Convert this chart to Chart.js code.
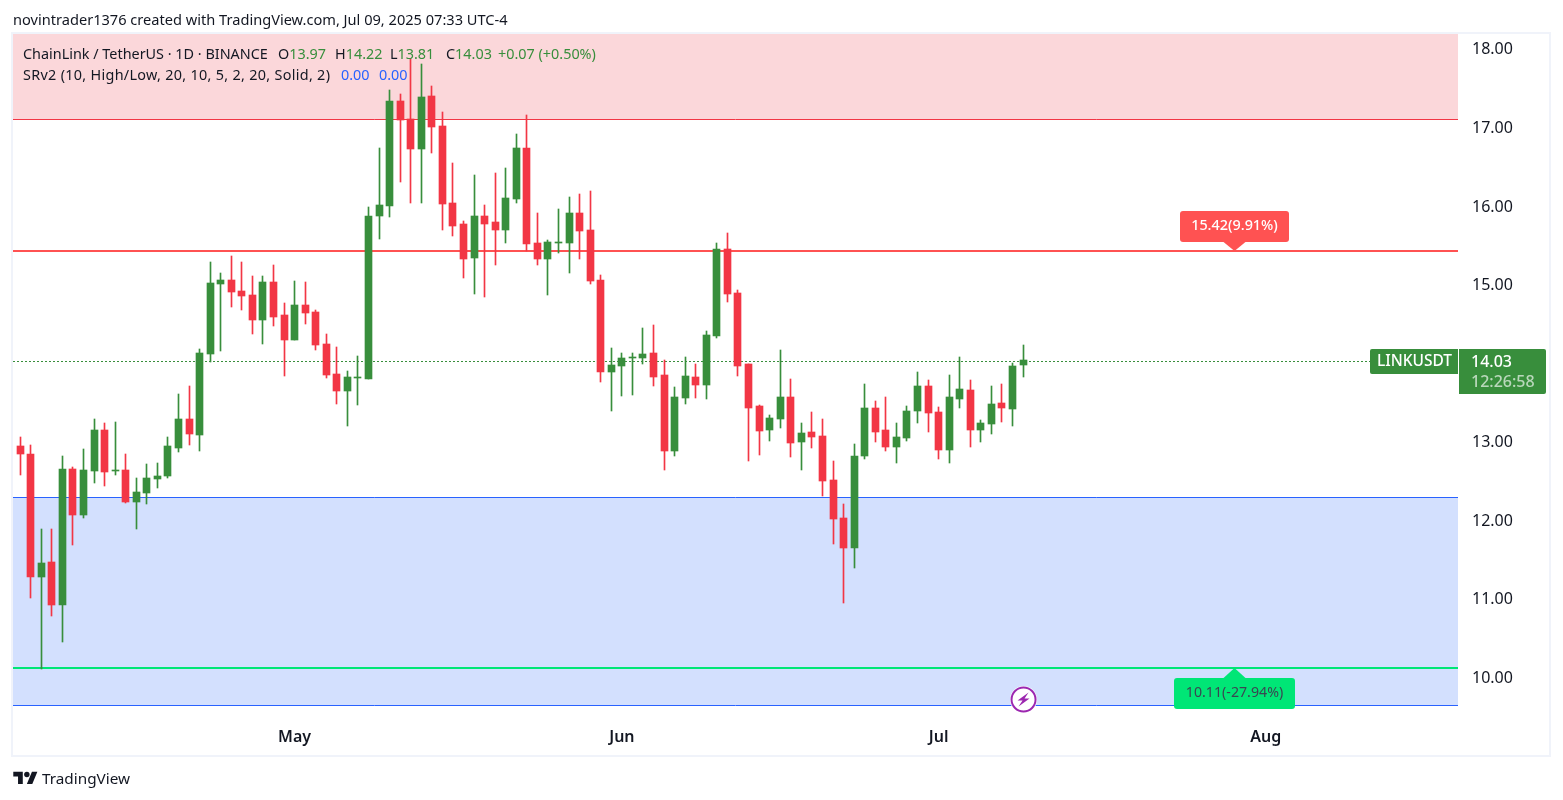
<!DOCTYPE html>
<html>
<head>
<meta charset="utf-8">
<title>LINKUSDT 1D</title>
<script src="https://cdn.jsdelivr.net/npm/chart.js@4"></script>
<style>
  html, body { margin: 0; padding: 0; background: #fff; }
  body { width: 1563px; height: 800px; position: relative; overflow: hidden;
         font-family: "Noto Sans", sans-serif; color: #131722; }
  canvas { position: absolute; left: 0; top: 0; }
  .frame { position: absolute; left: 11px; top: 32px; width: 1540px; height: 725px;
           box-sizing: border-box; border: 2px solid #f0f3fa; }
  .txt { position: absolute; white-space: nowrap; font-size: 14.4px; line-height: 20px; }
  .up { color: #388e3c; }
  .ind { color: #2962ff; }
  .logo { position: absolute; left: 13px; top: 769px; }
</style>
</head>
<body>
<div class="frame"></div>
<canvas id="chart" width="1563" height="800"></canvas>

<div class="txt" style="left:13px;top:9px;font-size:14.6px">novintrader1376 created with TradingView.com, Jul 09, 2025 07:33 UTC-4</div>

<div class="txt" style="left:23px;top:44px">ChainLink / TetherUS · 1D · BINANCE</div>
<div class="txt" style="left:278px;top:44px">O<span class="up">13.97</span></div>
<div class="txt" style="left:335px;top:44px">H<span class="up">14.22</span></div>
<div class="txt" style="left:390px;top:44px">L<span class="up">13.81</span></div>
<div class="txt" style="left:446px;top:44px">C<span class="up">14.03</span></div>
<div class="txt up" style="left:498px;top:44px">+0.07 (+0.50%)</div>
<div class="txt" style="left:23px;top:65px;letter-spacing:0.3px">SRv2 (10, High/Low, 20, 10, 5, 2, 20, Solid, 2)</div>
<div class="txt ind" style="left:341px;top:65px">0.00</div>
<div class="txt ind" style="left:379px;top:65px">0.00</div>

<svg class="logo" width="25" height="19" viewBox="0 0 36 28"><path fill="#131722" d="M14 22H7V11H0V4h14v18zM28 22h-8l7.5-18h8L28 22z"/><circle fill="#131722" cx="20" cy="8" r="4"/></svg>
<div class="txt" style="left:42px;top:768px;font-size:15.3px">TradingView</div>

<script>
// Daily candles, Apr 5 to Jul 9, one entry per session
const opens = [12.94,12.83,11.27,11.46,10.91,12.64,12.06,12.62,13.14,12.62,12.63,12.22,12.34,12.52,12.55,12.91,13.28,13.08,14.11,15.00,
  15.05,14.91,14.86,14.54,15.03,14.60,14.29,14.73,14.64,14.23,13.85,13.64,13.80,13.79,15.87,15.99,17.33,17.10,16.72,17.39,
  17.01,16.03,15.76,15.33,15.87,15.79,15.69,16.08,16.73,15.52,15.32,15.52,15.52,15.90,15.69,15.05,13.88,13.96,14.06,14.06,
  14.12,13.84,12.87,13.55,13.82,13.71,14.34,15.45,14.88,13.98,13.45,13.14,13.28,13.56,12.99,13.11,13.06,12.50,12.02,11.64,
  12.81,13.42,13.14,12.92,13.04,13.38,13.70,13.37,12.89,13.53,13.65,13.14,13.22,13.48,13.41,13.97];
const highs = [13.05,12.95,11.88,11.88,12.81,12.67,12.90,13.28,13.23,13.24,12.83,12.53,12.71,12.72,13.05,13.60,13.70,14.17,15.28,15.14,
  15.36,15.28,15.10,15.10,15.24,14.76,15.04,15.03,14.67,14.36,14.20,13.89,14.08,15.98,16.73,17.47,17.42,17.87,17.80,17.52,
  17.19,16.54,15.80,16.39,16.00,16.41,16.48,16.91,17.15,15.90,15.56,15.95,16.11,16.15,16.18,15.11,14.18,14.12,14.12,14.44,
  14.48,14.03,13.69,14.07,13.98,14.40,15.52,15.65,14.92,13.98,13.46,13.33,14.16,13.79,13.23,13.37,13.28,12.75,12.20,12.96,
  13.73,13.51,13.56,13.23,13.45,13.88,13.78,13.43,13.84,14.07,13.78,13.27,13.70,13.73,13.99,14.22];
const lows = [12.57,11.00,10.10,10.77,10.44,11.68,12.02,12.46,12.43,12.57,12.21,11.88,12.20,12.40,12.53,12.86,12.95,12.87,14.01,14.15,
  14.71,14.67,14.36,14.23,14.47,13.83,14.29,14.49,14.16,13.80,13.47,13.19,13.46,13.79,15.57,15.85,16.30,16.03,16.03,16.67,
  15.69,15.61,15.07,14.87,14.83,15.24,15.52,16.03,15.42,15.24,14.86,15.39,15.14,15.32,15.00,13.75,13.38,13.57,13.59,13.98,
  13.70,12.63,12.81,13.47,13.55,13.54,14.31,14.77,13.83,12.75,12.82,13.00,13.17,12.80,12.63,12.91,12.30,11.69,10.94,11.38,
  12.77,12.99,12.87,12.72,13.00,13.23,13.11,12.77,12.72,13.42,12.92,12.99,13.09,13.24,13.19,13.81];
const closes = [12.83,11.27,11.45,10.91,12.64,12.06,12.63,13.14,12.61,12.63,12.22,12.35,12.53,12.55,12.94,13.28,13.09,14.12,15.01,15.05,
  14.90,14.85,14.54,15.03,14.58,14.29,14.73,14.63,14.22,13.84,13.64,13.82,13.82,15.87,16.00,17.33,17.09,16.72,17.38,17.00,
  16.02,15.74,15.32,15.87,15.76,15.69,16.09,16.73,15.51,15.32,15.53,15.53,15.90,15.67,15.04,13.88,13.97,14.06,14.07,14.11,
  13.82,12.87,13.56,13.83,13.71,14.35,15.45,14.87,13.96,13.42,13.13,13.29,13.56,12.97,13.10,13.05,12.49,12.01,11.64,12.81,
  13.42,13.11,12.92,13.05,13.38,13.70,13.36,12.89,13.56,13.66,13.14,13.23,13.47,13.42,13.96,14.03];

const priceTicks = [10, 11, 12, 13, 14, 15, 16, 17, 18];
const monthTicks = [26, 57, 87, 118];
const monthLabels = ['May', 'Jun', 'Jul', 'Aug'];

// Indicator levels
const resistanceLow = 17.105;
const supportHigh = 12.29;
const supportLow = 9.64;
const targetUp = 15.42;
const targetDown = 10.11;
const lastClose = 14.03;
const targetUpLabel = '15.42(9.91%)';
const targetDownLabel = '10.11(-27.94%)';
const calloutIndex = 115.03;

const GREEN = '#388e3c';
const RED = '#f23645';
const FONT = '"Noto Sans", sans-serif';

const xMin = -0.6725, xMax = 136.2;
const yMin = 9.448, yMax = 18.183;

const candleColors = closes.map(function (c, i) { return c >= opens[i] ? GREEN : RED; });

// Horizontal level as a two point line across the pane
function level(value, color, width, extra) {
  return Object.assign({
    type: 'line',
    data: [{ x: xMin, y: value }, { x: xMax, y: value }],
    borderColor: color,
    borderWidth: width,
    pointRadius: 0,
    fill: false,
    order: 5
  }, extra || {});
}

// Snap bars and levels to whole pixels so they stay crisp
const snapMarks = {
  id: 'snapMarks',
  beforeDatasetsDraw: function (chart) {
    chart.getSortedVisibleDatasetMetas().forEach(function (meta) {
      if (meta.type === 'line') {
        var odd = chart.data.datasets[meta.index].borderWidth % 2 === 1;
        meta.data.forEach(function (pt) {
          pt.y = odd ? Math.round(pt.y + 0.5) + 0.5 : Math.round(pt.y);
        });
        return;
      }
      meta.data.forEach(function (el) {
        el.x = Math.floor(el.x) + 0.5;
        var top = Math.round(Math.min(el.y, el.base));
        var bottom = Math.round(Math.max(el.y, el.base));
        if (bottom === top) bottom = top + 1;
        el.y = top;
        el.base = bottom;
      });
    });
  }
};

function roundBox(ctx, x, y, w, h, r) {
  ctx.beginPath();
  ctx.roundRect(x, y, w, h, r);
  ctx.fill();
}

// Price tags, target callouts and the event marker
const overlays = {
  id: 'overlays',
  afterDatasetsDraw: function (chart) {
    const ctx = chart.ctx;
    const xs = chart.scales.x, ys = chart.scales.y;
    ctx.save();
    ctx.textBaseline = 'middle';

    // callout above the upper target
    var cx = xs.getPixelForValue(calloutIndex), ly = ys.getPixelForValue(targetUp);
    ctx.fillStyle = '#ff5252';
    roundBox(ctx, cx - 54.5, ly - 40, 109, 31, 3);
    ctx.beginPath();
    ctx.moveTo(cx - 11, ly - 9); ctx.lineTo(cx + 11, ly - 9); ctx.lineTo(cx, ly); ctx.closePath();
    ctx.fill();
    ctx.fillStyle = '#fff';
    ctx.font = '500 14.4px ' + FONT;
    ctx.textAlign = 'center';
    ctx.fillText(targetUpLabel, cx, ly - 25);

    // callout below the lower target
    ly = ys.getPixelForValue(targetDown);
    ctx.fillStyle = '#00e676';
    roundBox(ctx, cx - 60.5, ly + 10, 121, 31, 3);
    ctx.beginPath();
    ctx.moveTo(cx - 11, ly + 10); ctx.lineTo(cx + 11, ly + 10); ctx.lineTo(cx, ly); ctx.closePath();
    ctx.fill();
    ctx.fillStyle = '#3a4652';
    ctx.font = '14.2px ' + FONT;
    ctx.fillText(targetDownLabel, cx, ly + 25);

    // symbol and last price tags
    ly = ys.getPixelForValue(lastClose);
    var top = Math.round(ly) - 11;
    ctx.fillStyle = GREEN;
    roundBox(ctx, 1370, top, 88, 25, [2, 0, 0, 2]);
    roundBox(ctx, 1459, top, 87, 45, [0, 2, 2, 0]);
    ctx.fillStyle = '#fff';
    ctx.font = '500 15.5px ' + FONT;
    ctx.fillText('LINKUSDT', 1414.5, top + 13);
    ctx.textAlign = 'left';
    ctx.font = '500 16px ' + FONT;
    ctx.fillText(lastClose.toFixed(2), 1471, top + 13);
    ctx.fillStyle = 'rgba(255,255,255,0.65)';
    ctx.fillText('12:26:58', 1471, top + 33);

    // event marker on the last session
    var mx = xs.getPixelForValue(95) + 0.5, my = 699.5;
    ctx.fillStyle = '#fff';
    ctx.beginPath(); ctx.arc(mx, my, 13.5, 0, Math.PI * 2); ctx.fill();
    ctx.strokeStyle = '#9c27b0';
    ctx.lineWidth = 2;
    ctx.beginPath(); ctx.arc(mx, my, 12, 0, Math.PI * 2); ctx.stroke();
    ctx.fillStyle = '#9c27b0';
    ctx.beginPath();
    ctx.moveTo(mx + 5, my - 7); ctx.lineTo(mx - 6, my + 1); ctx.lineTo(mx - 1, my + 1);
    ctx.lineTo(mx - 5, my + 7); ctx.lineTo(mx + 6, my - 1); ctx.lineTo(mx + 1, my - 1);
    ctx.closePath();
    ctx.fill();
    ctx.restore();
  }
};

new Chart(document.getElementById('chart'), {
  type: 'bar',
  plugins: [snapMarks, overlays],
  data: {
    datasets: [
      level(resistanceLow, RED, 1, { fill: { value: yMax }, backgroundColor: '#fbd7da', order: 10 }),
      level(supportHigh, '#2962ff', 1, { fill: { value: supportLow }, backgroundColor: '#d3e0fe', order: 10 }),
      level(supportLow, '#2962ff', 1, { order: 9 }),
      level(targetUp, '#ff5252', 2),
      level(targetDown, '#00e676', 2),
      level(lastClose, GREEN, 1, { borderDash: [2, 2] }),
      {
        // wicks
        data: highs.map(function (h, i) { return { x: i, y: [lows[i], h] }; }),
        backgroundColor: candleColors,
        barThickness: 1,
        grouped: false,
        order: 2
      },
      {
        // bodies
        data: opens.map(function (o, i) { return { x: i, y: [o, closes[i]] }; }),
        backgroundColor: candleColors,
        barThickness: 7,
        grouped: false,
        order: 1
      }
    ]
  },
  options: {
    responsive: false,
    devicePixelRatio: 1,
    animation: false,
    layout: { padding: { left: 13, top: 34, right: 13, bottom: 45 } },
    plugins: { legend: { display: false }, tooltip: { enabled: false } },
    scales: {
      x: {
        type: 'linear',
        offset: false,
        min: xMin,
        max: xMax,
        grid: { display: false },
        border: { display: false },
        afterFit: function (scale) { scale.height = 35; },
        afterBuildTicks: function (scale) {
          scale.ticks = monthTicks.map(function (v) { return { value: v }; });
        },
        ticks: {
          color: '#131722',
          font: { family: FONT, size: 16, weight: '600' },
          padding: 0,
          maxRotation: 0,
          autoSkip: false,
          callback: function (v) { return monthLabels[monthTicks.indexOf(v)]; }
        }
      },
      y: {
        position: 'right',
        min: yMin,
        max: yMax,
        grid: { display: false },
        border: { display: false },
        afterFit: function (scale) { scale.width = 92; },
        afterBuildTicks: function (scale) {
          scale.ticks = priceTicks.map(function (v) { return { value: v }; });
        },
        ticks: {
          color: '#131722',
          font: { family: FONT, size: 16 },
          padding: 6,
          labelOffset: 1.5,
          callback: function (v) { return v.toFixed(2); }
        }
      }
    }
  }
});
</script>
</body>
</html>
